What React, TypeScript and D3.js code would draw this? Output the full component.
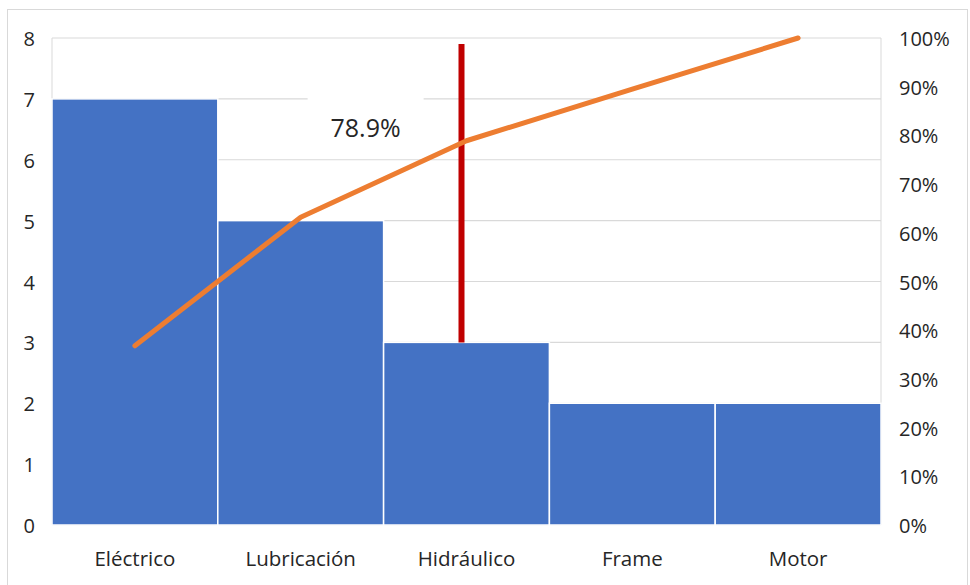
import React, { useEffect, useRef } from 'react';
import * as d3 from 'd3';

const categories = ['Eléctrico', 'Lubricación', 'Hidráulico', 'Frame', 'Motor'];
const counts = [7, 5, 3, 2, 2];
const cumulativePct = [0.368, 0.632, 0.789, 0.895, 1.0];
const leftTicks = [0, 1, 2, 3, 4, 5, 6, 7, 8];
const rightTicks = [0, 0.1, 0.2, 0.3, 0.4, 0.5, 0.6, 0.7, 0.8, 0.9, 1.0];
const markerCategory = 'Hidráulico';
const markerRange = [3, 7.9];
const markerLabel = '78.9%';

export default function App() {
  const svgRef = useRef<SVGSVGElement>(null);

  useEffect(() => {
    if (!svgRef.current) return;

    const width = 970;
    const height = 585;
    const margin = { top: 38, right: 89, bottom: 60, left: 52 };
    const font = '"Open Sans", "Liberation Sans", Arial, sans-serif';

    const svg = d3.select(svgRef.current);
    svg.selectAll('*').remove();
    svg.attr('width', width).attr('height', height);

    svg.append('rect')
      .attr('width', width).attr('height', height).attr('fill', '#fff');
    svg.append('rect')
      .attr('x', 7.5).attr('y', 9.5)
      .attr('width', 960).attr('height', 600)
      .attr('fill', 'none').attr('stroke', '#d9d9d9');

    const x = d3.scaleBand<string>()
      .domain(categories)
      .range([margin.left, width - margin.right])
      .padding(0);

    const y = d3.scaleLinear()
      .domain([0, 8])
      .range([height - margin.bottom, margin.top]);

    const yPct = d3.scaleLinear()
      .domain([0, 1])
      .range([height - margin.bottom, margin.top]);

    // gridlines
    svg.append('g')
      .selectAll('line')
      .data(leftTicks)
      .enter()
      .append('line')
      .attr('x1', margin.left).attr('x2', width - margin.right)
      .attr('y1', d => y(d)).attr('y2', d => y(d))
      .attr('stroke', '#d9d9d9').attr('stroke-width', 1.2);

    // plot area side borders
    [margin.left, width - margin.right].forEach(px => {
      svg.append('line')
        .attr('x1', px).attr('x2', px)
        .attr('y1', y(8)).attr('y2', y(0))
        .attr('stroke', '#d9d9d9');
    });

    // bars
    svg.append('g')
      .selectAll('rect')
      .data(categories)
      .enter()
      .append('rect')
      .attr('x', d => x(d)!)
      .attr('width', x.bandwidth())
      .attr('y', (d, i) => y(counts[i]))
      .attr('height', (d, i) => y(0) - y(counts[i]))
      .attr('fill', '#4472c4')
      .attr('stroke', '#fff')
      .attr('stroke-width', 1.5);

    // label box
    const labelX = x(markerCategory)! - 18;
    svg.append('rect')
      .attr('x', labelX - 58).attr('y', y(7.05))
      .attr('width', 116).attr('height', 59)
      .attr('fill', '#fff');
    svg.append('text')
      .attr('x', labelX).attr('y', y(6.37))
      .attr('text-anchor', 'middle')
      .attr('font-family', font).attr('font-size', 25)
      .attr('fill', '#262626')
      .text(markerLabel);

    // marker line
    const mx = x(markerCategory)! + x.bandwidth() / 2 - 5;
    svg.append('line')
      .attr('x1', mx).attr('x2', mx)
      .attr('y1', y(markerRange[0])).attr('y2', y(markerRange[1]))
      .attr('stroke', '#c00000').attr('stroke-width', 6);

    // cumulative line
    const line = d3.line<number>()
      .x((d, i) => x(categories[i])! + x.bandwidth() / 2)
      .y(d => yPct(d));
    svg.append('path')
      .datum(cumulativePct)
      .attr('d', line)
      .attr('fill', 'none')
      .attr('stroke', '#ed7d31')
      .attr('stroke-width', 5)
      .attr('stroke-linecap', 'round')
      .attr('stroke-linejoin', 'round');

    // left axis labels
    svg.append('g')
      .selectAll('text')
      .data(leftTicks)
      .enter()
      .append('text')
      .attr('x', 35)
      .attr('y', d => y(d) + 8)
      .attr('text-anchor', 'end')
      .attr('font-family', font).attr('font-size', 20)
      .attr('fill', '#262626')
      .text(d => String(d));

    // right axis labels
    svg.append('g')
      .selectAll('text')
      .data(rightTicks)
      .enter()
      .append('text')
      .attr('x', 899)
      .attr('y', d => yPct(d) + 8)
      .attr('text-anchor', 'start')
      .attr('font-family', font).attr('font-size', 20)
      .attr('fill', '#262626')
      .text(d => `${Math.round(d * 100)}%`);

    // category labels
    svg.append('g')
      .selectAll('text')
      .data(categories)
      .enter()
      .append('text')
      .attr('x', d => x(d)! + x.bandwidth() / 2)
      .attr('y', height - margin.bottom + 41)
      .attr('text-anchor', 'middle')
      .attr('font-family', font).attr('font-size', 20.5)
      .attr('fill', '#262626')
      .text(d => d);
  }, []);

  return <svg ref={svgRef} style={{ position: 'absolute', left: 0, top: 0 }}></svg>;
}
